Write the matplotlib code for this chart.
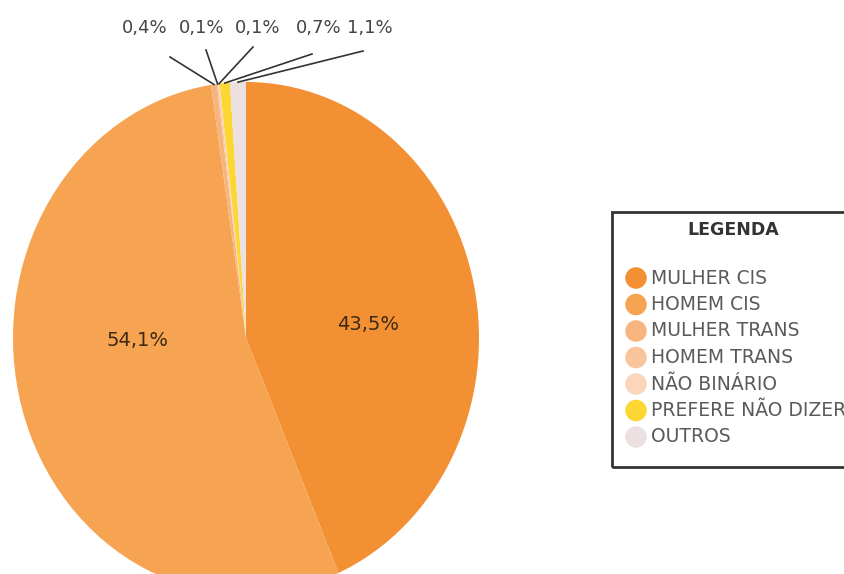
import numpy as np
import matplotlib
matplotlib.use("Agg")
import matplotlib.pyplot as plt
from matplotlib.patches import Rectangle

plt.rcParams['font.family'] = ['DejaVu Sans']

# Data
categorias = ["MULHER CIS", "HOMEM CIS", "MULHER TRANS", "HOMEM TRANS",
              "NÃO BINÁRIO", "PREFERE NÃO DIZER", "OUTROS"]
valores = [43.5, 54.1, 0.4, 0.1, 0.1, 0.7, 1.1]
cores = ["#f39034", "#f6a352", "#f7b47e", "#f9c49c", "#fbd6bc", "#fcd632", "#ede0e1"]

W, H = 845, 574
fig = plt.figure(figsize=(W / 100, H / 100), dpi=100)

# pie (slightly stretched vertically, bottom runs off the canvas)
cx, cy, rx, ry = 246, H - 338, 233, 256
axp = fig.add_axes([(cx - rx) / W, (cy - ry) / H, 2 * rx / W, 2 * ry / H])
wedges, _ = axp.pie(valores, colors=cores, startangle=90, counterclock=False,
                    radius=1, wedgeprops=dict(linewidth=0))
axp.set_aspect('auto')
axp.set_xlim(-1, 1)
axp.set_ylim(-1, 1)
axp.axis('off')

# overlay in pixel units for labels and legend
ax = fig.add_axes([0, 0, 1, 1])
ax.set_xlim(0, W)
ax.set_ylim(0, H)
ax.patch.set_alpha(0)
ax.axis('off')

def rotulo(v):
    return f"{v:.1f}%".replace(".", ",")

# large slices: labels inside
ax.text(368, H - 325, rotulo(valores[0]), ha='center', va='center',
        fontsize=14, color="#3d2a14")
ax.text(138, H - 340, rotulo(valores[1]), ha='center', va='center',
        fontsize=14, color="#3d2a14")

# small slices: labels on top with leader lines
lbl_x = [145, 202, 258, 319, 370]
lbl_end = [(170, 57), (206, 50), (253, 47), (312, 54), (363, 51)]
for i, k in enumerate(range(2, 7)):
    w = wedges[k]
    ang = np.deg2rad((w.theta1 + w.theta2) / 2)
    px = cx + rx * np.cos(ang)
    py = cy + ry * np.sin(ang)
    ex, ey = lbl_end[i]
    ax.plot([px, ex], [py, H - ey], color="#333333", lw=1.2)
    ax.text(lbl_x[i], H - 28, rotulo(valores[k]), ha='center', va='center',
            fontsize=13, color="#444444")

# Legend box
ax.add_patch(Rectangle((612, H - 467), 260, 255, fill=False,
                       edgecolor="#333333", lw=2, clip_on=False))
ax.text(733, H - 230, "LEGENDA", ha='center', va='center', fontsize=12.5,
        fontweight='bold', color="#333333")
ys = H - (278 + 26.5 * np.arange(len(categorias)))
ax.scatter(np.full(len(categorias), 636), ys, s=240, c=cores, linewidths=0)
for y, nome in zip(ys, categorias):
    ax.text(651, y, nome, ha='left', va='center', fontsize=13.5, color="#5a5a5a")

fig.savefig("out.png", dpi=100)
